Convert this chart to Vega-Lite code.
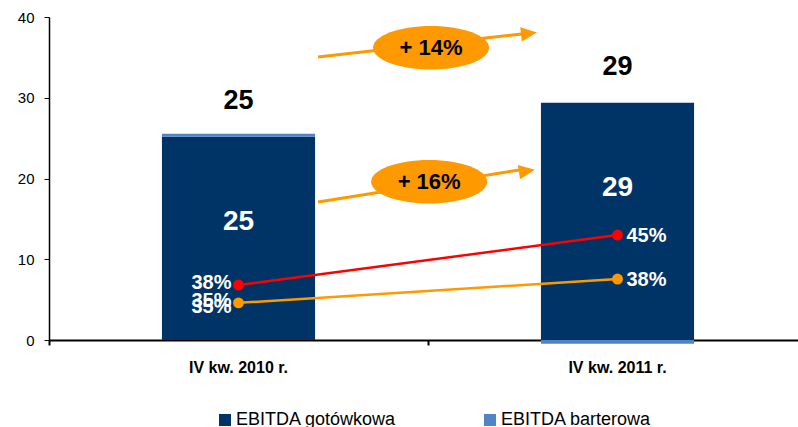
{
  "$schema": "https://vega.github.io/schema/vega-lite/v6.json",
  "width": 749,
  "height": 323,
  "autosize": "none",
  "padding": {"left": 49, "top": 17, "right": 0, "bottom": 87},
  "config": {"view": {"stroke": null}, "font": "Liberation Sans"},
  "datasets": {
    "slupki": [
      {"kwartal": "IV kw. 2010 r.", "typ": "EBITDA gotówkowa", "wartosc": 25.16},
      {"kwartal": "IV kw. 2010 r.", "typ": "EBITDA barterowa", "wartosc": 0.37},
      {"kwartal": "IV kw. 2011 r.", "typ": "EBITDA gotówkowa", "wartosc": 29.37},
      {"kwartal": "IV kw. 2011 r.", "typ": "EBITDA barterowa", "wartosc": -0.45}
    ],
    "sumy": [
      {"kwartal": "IV kw. 2010 r.", "gotowkowa": 25.16, "etykieta": "25"},
      {"kwartal": "IV kw. 2011 r.", "gotowkowa": 29.37, "etykieta": "29"}
    ],
    "linie": [
      {"kwartal": "IV kw. 2010 r.", "seria": "A", "wartosc": 6.8, "etykieta": "38%"},
      {"kwartal": "IV kw. 2011 r.", "seria": "A", "wartosc": 13.0, "etykieta": "45%"},
      {"kwartal": "IV kw. 2010 r.", "seria": "B", "wartosc": 4.6, "etykieta": "35%"},
      {"kwartal": "IV kw. 2011 r.", "seria": "B", "wartosc": 7.55, "etykieta": "38%"}
    ],
    "strzalki": [
      {"strzalka": "1", "x": 0.71, "y": 35.05},
      {"strzalka": "1", "x": 1.248, "y": 37.9},
      {"strzalka": "2", "x": 0.71, "y": 17.09},
      {"strzalka": "2", "x": 1.24, "y": 21.05}
    ],
    "elipsy": [
      {"x": 1.008, "y": 36.2, "tekst": "+ 14%"},
      {"x": 1.003, "y": 19.6, "tekst": "+ 16%"}
    ]
  },
  "layer": [
    {
      "encoding": {
        "x": {
          "field": "kwartal",
          "type": "nominal",
          "sort": null,
          "scale": {"range": [0, 758], "paddingInner": 0, "paddingOuter": 0},
          "axis": {
            "title": null,
            "labelAngle": 0,
            "labelFontSize": 16,
            "labelFontWeight": "bold",
            "labelColor": "#000000",
            "labelPadding": 14,
            "bandPosition": 0,
            "tickSize": 5,
            "tickWidth": 2,
            "tickColor": "#000000",
            "domainColor": "#000000",
            "domainWidth": 2
          }
        }
      },
      "layer": [
        {
          "data": {"name": "slupki"},
          "mark": {"type": "bar", "width": {"band": 0.404}},
          "encoding": {
            "y": {
              "field": "wartosc",
              "type": "quantitative",
              "stack": "zero",
              "scale": {"domain": [0, 40], "nice": false},
              "axis": {
                "title": null,
                "values": [0, 10, 20, 30, 40],
                "grid": false,
                "labelFontSize": 15,
                "labelColor": "#000000",
                "labelPadding": 10,
                "tickSize": 5,
                "tickColor": "#000000",
                "domainColor": "#000000",
                "domainWidth": 1.5
              }
            },
            "color": {
              "field": "typ",
              "type": "nominal",
              "scale": {"domain": ["EBITDA gotówkowa", "EBITDA barterowa"], "range": ["#003366", "#5283C4"]},
              "legend": {
                "orient": "none",
                "legendX": 167,
                "legendY": 394,
                "direction": "horizontal",
                "columns": 2,
                "title": null,
                "symbolType": "square",
                "symbolSize": 144,
                "symbolStrokeWidth": 0,
                "labelFontSize": 18,
                "labelColor": "#000000",
                "labelOffset": 2,
                "labelLimit": 400,
                "columnPadding": 84
              }
            },
            "order": {"field": "typ", "sort": "descending"}
          }
        },
        {
          "data": {"name": "sumy"},
          "mark": {"type": "text", "fontSize": 27, "fontWeight": "bold", "color": "#000000", "dy": -36, "baseline": "middle"},
          "encoding": {
            "y": {"field": "gotowkowa", "type": "quantitative"},
            "text": {"field": "etykieta"}
          }
        },
        {
          "data": {"name": "sumy"},
          "mark": {"type": "text", "fontSize": 28, "fontWeight": "bold", "color": "#FFFFFF", "dy": 85, "baseline": "middle"},
          "encoding": {
            "y": {"field": "gotowkowa", "type": "quantitative"},
            "text": {"field": "etykieta"}
          }
        },
        {
          "data": {"name": "linie"},
          "mark": {"type": "line", "strokeWidth": 2.5},
          "encoding": {
            "y": {"field": "wartosc", "type": "quantitative"},
            "detail": {"field": "seria"},
            "stroke": {"field": "seria", "type": "nominal", "scale": {"domain": ["A", "B"], "range": ["#FF0000", "#FF9900"]}, "legend": null}
          }
        },
        {
          "data": {"name": "linie"},
          "mark": {"type": "point", "filled": true, "shape": "circle", "size": 120, "opacity": 1},
          "encoding": {
            "y": {"field": "wartosc", "type": "quantitative"},
            "fill": {"field": "seria", "type": "nominal", "scale": {"domain": ["A", "B"], "range": ["#FF0000", "#FF9900"]}, "legend": null}
          }
        },
        {
          "data": {"name": "linie"},
          "transform": [{"filter": "datum.kwartal == 'IV kw. 2010 r.'"}],
          "mark": {"type": "text", "fontSize": 20, "fontWeight": "bold", "color": "#FFFFFF", "align": "right", "baseline": "middle", "dx": -7, "dy": -2},
          "encoding": {
            "y": {"field": "wartosc", "type": "quantitative"},
            "text": {"field": "etykieta"}
          }
        },
        {
          "data": {"name": "linie"},
          "transform": [{"filter": "datum.seria == 'B' && datum.kwartal == 'IV kw. 2010 r.'"}],
          "mark": {"type": "text", "fontSize": 20, "fontWeight": "bold", "color": "#FFFFFF", "align": "right", "baseline": "middle", "dx": -7, "dy": 4},
          "encoding": {
            "y": {"field": "wartosc", "type": "quantitative"},
            "text": {"field": "etykieta"}
          }
        },
        {
          "data": {"name": "linie"},
          "transform": [{"filter": "datum.kwartal == 'IV kw. 2011 r.'"}],
          "mark": {"type": "text", "fontSize": 20, "fontWeight": "bold", "color": "#FFFFFF", "align": "left", "baseline": "middle", "dx": 9, "dy": 1},
          "encoding": {
            "y": {"field": "wartosc", "type": "quantitative"},
            "text": {"field": "etykieta"}
          }
        }
      ]
    },
    {
      "encoding": {
        "x": {"field": "x", "type": "quantitative", "scale": {"domain": [0, 2], "range": [0, 758], "nice": false, "zero": false}, "axis": null},
        "y": {"field": "y", "type": "quantitative"}
      },
      "layer": [
        {
          "data": {"name": "strzalki"},
          "mark": {"type": "line", "color": "#FF9900", "strokeWidth": 3},
          "encoding": {"detail": {"field": "strzalka"}}
        },
        {
          "data": {"values": [{"x": 1.2665, "y": 37.96}]},
          "mark": {"type": "point", "shape": "M-1,-0.9L1,0L-1,0.9Z", "filled": true, "color": "#FF9900", "opacity": 1, "size": 256, "angle": -6.5}
        },
        {
          "data": {"values": [{"x": 1.261, "y": 20.93}]},
          "mark": {"type": "point", "shape": "M-1,-0.9L1,0L-1,0.9Z", "filled": true, "color": "#FF9900", "opacity": 1, "size": 256, "angle": -8.6}
        },
        {
          "data": {"name": "elipsy"},
          "mark": {"type": "point", "shape": "M-1,0A1,0.375,0,1,0,1,0A1,0.375,0,1,0,-1,0Z", "filled": true, "color": "#FF9900", "opacity": 1, "size": 13456}
        },
        {
          "data": {"name": "elipsy"},
          "mark": {"type": "text", "fontSize": 22, "fontWeight": "bold", "color": "#000000", "baseline": "middle"},
          "encoding": {"text": {"field": "tekst"}}
        }
      ]
    }
  ],
  "resolve": {"scale": {"x": "independent"}}
}
